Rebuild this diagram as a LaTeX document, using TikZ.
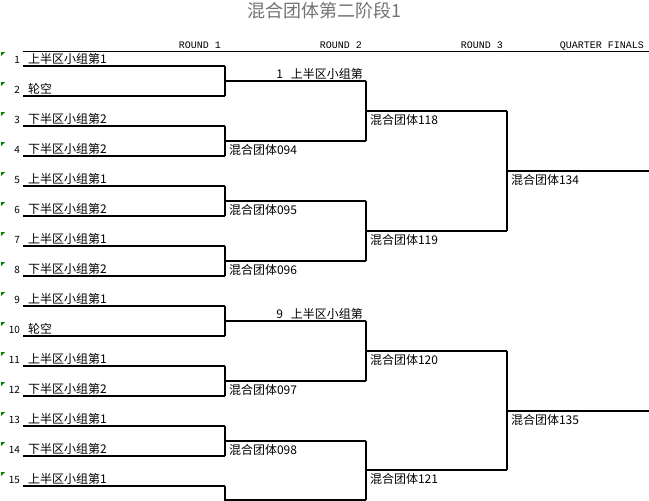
\documentclass[tikz,border=0pt]{standalone}
\usepackage{fontspec}
\newfontfamily\cjk{Noto Sans CJK SC}
\newfontfamily\hdr{Liberation Mono}
\usetikzlibrary{positioning}

\begin{document}
\begin{tikzpicture}[x=1pt,y=-1pt,line width=2pt,
	team/.style={anchor=base west,inner sep=0pt,font=\cjk\fontsize{12}{12}\selectfont},
	seed/.style={anchor=base east,inner sep=0pt,font=\cjk\fontsize{10}{10}\selectfont},
	winner/.style={anchor=base west,inner sep=0pt,font=\cjk\fontsize{12}{12}\selectfont},
	carry/.style={anchor=base east,inner sep=0pt,font=\cjk\fontsize{12}{12}\selectfont},
	roundhead/.style={anchor=base east,inner sep=0pt,font=\hdr\fontsize{10}{10}\selectfont},
	flag/.style={fill=green!50!black,draw=none}]
	\useasboundingbox (0,0) rectangle (649,501);

	% title and round headers
	\node (title) [font=\cjk\fontsize{18}{18}\selectfont, text=black!55] at (324,11) {混合团体第二阶段1};
	\coordinate (hl) at (23,51);
	\coordinate (hr) at (649,51);
	\draw[line width=0.8pt] (hl) -- (hr);
	\node (h1) [roundhead] at (222,48) {ROUND 1};
	\node (h2) [roundhead] at (363,48) {ROUND 2};
	\node (h3) [roundhead] at (504,48) {ROUND 3};
	\node (h4) [roundhead] at (645,48) {QUARTER FINALS};

	% entries
	\foreach \i/\t in {1/上半区小组第1, 2/轮空, 3/下半区小组第2, 4/下半区小组第2,
		5/上半区小组第1, 6/下半区小组第2, 7/上半区小组第1, 8/下半区小组第2,
		9/上半区小组第1, 10/轮空, 11/上半区小组第1, 12/下半区小组第2,
		13/上半区小组第1, 14/下半区小组第2, 15/上半区小组第1} {
		\coordinate (a\i) at (23,36+30*\i);
		\coordinate (s\i) at (225,36+30*\i);
		\node (n\i) [seed] at (21,36+30*\i-3) {\i};
		\node (t\i) [team] at (27,36+30*\i-3) {\t};
		\fill[flag] (1,22+30*\i) -- ++(4,0) -- ++(-4,4) -- cycle;
		\draw (a\i) -- (s\i);
	}

	% round 1
	\foreach \j in {1,...,7} {
		\coordinate (j\j) at (225,21+60*\j);
		\coordinate (m\j) at (366,21+60*\j);
	}
	\coordinate (j8) at (225,500);
	\coordinate (m8) at (366,500);
	\foreach \j [evaluate=\j as \p using int(2*\j-1), evaluate=\j as \q using int(2*\j)] in {1,...,7}
		\draw (s\p) |- (m\j) (s\q) |- (m\j);
	\draw (s15) |- (m8);

	% round 2
	\foreach \k/\y in {1/111, 2/231, 3/351, 4/470} {
		\coordinate (k\k) at (366,\y);
		\coordinate (r\k) at (507,\y);
	}
	\draw (m1) |- (r1) (m2) |- (r1);
	\draw (m3) |- (r2) (m4) |- (r2);
	\draw (m5) |- (r3) (m6) |- (r3);
	\draw (m7) |- (r4) (m8) |- (r4);

	% round 3
	\coordinate (g1) at (507,171);
	\coordinate (q1) at (649,171);
	\coordinate (g2) at (507,411);
	\coordinate (q2) at (649,411);
	\draw (r1) |- (q1) (r2) |- (q1);
	\draw (r3) |- (q2) (r4) |- (q2);

	% results
	\node (w1) [carry] at ([xshift=-2pt,yshift=3pt]m1) {1\hspace{8pt}上半区小组第};
	\node (w5) [carry] at ([xshift=-2pt,yshift=3pt]m5) {9\hspace{8pt}上半区小组第};
	\foreach \j/\t in {2/094, 3/095, 4/096, 6/097, 7/098}
		\node (w\j) [winner] at ([xshift=3pt,yshift=-13pt]j\j) {混合团体\t};
	\foreach \k/\t in {1/118, 2/119, 3/120, 4/121}
		\node (v\k) [winner] at ([xshift=3pt,yshift=-13pt]k\k) {混合团体\t};
	\foreach \g/\t in {1/134, 2/135}
		\node (u\g) [winner] at ([xshift=3pt,yshift=-13pt]g\g) {混合团体\t};
\end{tikzpicture}
\end{document}
